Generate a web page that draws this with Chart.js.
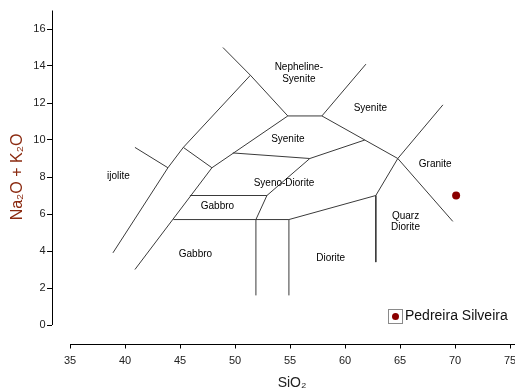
<!DOCTYPE html>
<html><head><meta charset="utf-8">
<script src="https://cdn.jsdelivr.net/npm/chart.js@4/dist/chart.umd.min.js"></script>
<style>html,body{margin:0;padding:0;overflow:hidden;background:#fff}</style>
</head><body>
<canvas id="c" width="540" height="394"></canvas>
<script>
// ---- tick labels ----
const xTicks = [35, 40, 45, 50, 55, 60, 65, 70, 75];
const yTicks = [0, 2, 4, 6, 8, 10, 12, 14, 16];

// ---- sample ----
const sampleName = 'Pedreira Silveira';
const sampleSiO2 = [70.1];
const sampleAlkali = [7.0];

// ---- field boundaries (SiO2, Na2O+K2O) ----
const ijoliteOuter   = [[38.9,3.9],[43.9,8.5],[45.3,9.6],[51.4,13.5]];
const nephSyeniteTop = [[48.9,15.0],[51.4,13.5],[54.8,11.3],[57.9,11.3],[61.9,14.1]];
const ijoliteTop     = [[40.9,9.6],[43.9,8.5]];
const syeniteLower   = [[45.3,9.6],[47.9,8.5],[54.8,11.3]];
const gabbroOuter    = [[47.9,8.5],[40.9,3.0]];
const gabbroUpperTop = [[45.9,7.0],[52.9,7.0]];
const gabbroLowerTop = [[44.4,5.7],[54.9,5.7]];
const line52         = [[51.9,1.6],[51.9,5.7],[52.9,7.0],[56.8,9.0]];
const syenoTop       = [[49.8,9.3],[56.8,9.0],[61.8,10.0]];
const line55         = [[54.9,1.6],[54.9,5.7],[62.8,7.0],[64.8,9.0],[68.9,11.9]];
const graniteLeft    = [[57.9,11.3],[64.8,9.0],[69.8,5.6]];
const quarzDioLine   = [[62.8,7.0],[62.8,3.4]];
const boundaries = [ijoliteOuter, nephSyeniteTop, ijoliteTop, syeniteLower, gabbroOuter,
  gabbroUpperTop, gabbroLowerTop, line52, syenoTop, line55, graniteLeft, quarzDioLine];

// ---- field names ----
const regionNames = ['Nepheline-\nSyenite','Syenite','Syenite','Syeno-Diorite','Granite','ijolite',
  'Gabbro','Gabbro','Diorite','Quarz\nDiorite'];
const regionX = [55.8, 62.3, 54.8, 54.45, 68.2, 39.4, 48.4, 46.4, 58.7, 65.5];
const regionY = [13.6, 11.7, 10.05, 7.68, 8.7, 8.05, 6.43, 3.84, 3.62, 5.57];

const FONT = '"Liberation Sans", Arial, Helvetica, sans-serif';
Chart.defaults.font.family = FONT;
const darkRed = '#8B0000';

const datasets = boundaries.map(b => ({
  type: 'scatter', showLine: true, data: b.map(p => ({x: p[0], y: p[1]})),
  borderColor: '#3a3a3a', borderWidth: 1, pointRadius: 0, fill: false, tension: 0
}));
datasets.push({
  type: 'scatter', label: sampleName,
  data: sampleSiO2.map((v, i) => ({x: v, y: sampleAlkali[i]})),
  pointRadius: 4, backgroundColor: darkRed, borderColor: darkRed, borderWidth: 0
});

const overlay = {
  id: 'overlay',
  afterDraw(chart) {
    const ctx = chart.ctx, xs = chart.scales.x, ys = chart.scales.y, ca = chart.chartArea;
    ctx.save();
    ctx.strokeStyle = '#000'; ctx.lineWidth = 1;
    const lx = Math.round(ca.left) + 0.5;
    ctx.beginPath();
    ctx.moveTo(lx, ys.getPixelForValue(17));
    ctx.lineTo(lx, ys.getPixelForValue(0));
    const by = Math.round(ca.bottom) + 0.5;
    ctx.moveTo(xs.getPixelForValue(xTicks[0]), by);
    ctx.lineTo(ca.right, by);
    ctx.stroke();
    // region labels
    ctx.fillStyle = '#000';
    ctx.font = '10px ' + FONT;
    ctx.textAlign = 'center'; ctx.textBaseline = 'middle';
    regionNames.forEach((n, i) => {
      const lines = n.split('\n');
      const px = xs.getPixelForValue(regionX[i]);
      const py = ys.getPixelForValue(regionY[i]);
      lines.forEach((t, k) => ctx.fillText(t, px, py + (k - (lines.length - 1) / 2) * 11.5));
    });
    // legend
    const ds = chart.data.datasets[chart.data.datasets.length - 1];
    ctx.strokeStyle = '#8a8a8a'; ctx.fillStyle = '#fff';
    ctx.fillRect(388.5, 309.5, 14, 14);
    ctx.strokeRect(388.5, 309.5, 14, 14);
    ctx.fillStyle = ds.backgroundColor;
    ctx.beginPath(); ctx.arc(395.5, 316.5, 3.5, 0, Math.PI * 2); ctx.fill();
    ctx.fillStyle = '#111';
    ctx.font = '14px ' + FONT;
    ctx.textAlign = 'left';
    ctx.fillText(ds.label, 405, 316.5);
    ctx.restore();
  }
};

new Chart(document.getElementById('c'), {
  type: 'scatter',
  data: {datasets},
  options: {
    responsive: false, animation: false,
    layout: {padding: {left: 2, top: 10.5, right: 8, bottom: 0}},
    plugins: {legend: {display: false}, tooltip: {enabled: false}},
    scales: {
      x: {
        type: 'linear', min: 33.3636, max: 77,
        afterBuildTicks: s => { s.ticks = xTicks.map(v => ({value: v})); },
        ticks: {font: {size: 11}, color: '#222', padding: 5.5, maxRotation: 0, autoSkip: false},
        grid: {display: true, drawOnChartArea: false, drawTicks: true, tickLength: 5, color: '#000'},
        border: {display: false},
        title: {display: true, text: 'SiO₂', color: '#222', font: {size: 14}, padding: {top: 2.5, bottom: 2}}
      },
      y: {
        type: 'linear', min: -1, max: 17,
        afterBuildTicks: s => { s.ticks = yTicks.map(v => ({value: v})); },
        ticks: {font: {size: 11}, color: '#222', padding: 1.5, autoSkip: false},
        grid: {display: true, drawOnChartArea: false, drawTicks: true, tickLength: 5, color: '#000'},
        border: {display: false},
        title: {display: true, text: 'Na₂O + K₂O', color: '#8B2A10', font: {size: 16}, padding: {top: 5.9, bottom: 4.7}}
      }
    }
  },
  plugins: [overlay]
});
</script>
</body></html>
